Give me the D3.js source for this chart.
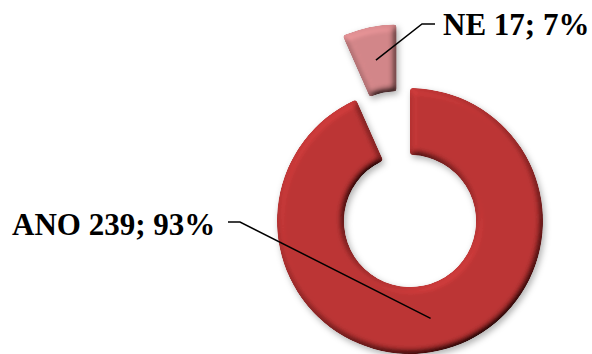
<!DOCTYPE html>
<html>
<head>
<meta charset="utf-8">
<script src="https://cdn.jsdelivr.net/npm/d3@7/dist/d3.min.js"></script>
<style>
  html, body { margin: 0; padding: 0; background: #ffffff; }
  svg { display: block; }
  .lbl { font-family: "Liberation Serif", "Times New Roman", serif; font-weight: bold; font-size: 31px; fill: #000; }
</style>
</head>
<body>
<svg id="chart" width="592" height="354"></svg>
<script>
// Answers: yes / no
const categories = ["ANO", "NE"];
const values = [239, 17];
const colors = ["#bd3535", "#d4878a"];
// which slice is pulled out of the ring
const exploded = [false, true];

const W = 592, H = 354;
const cx = 410, cy = 221;
const outerR = 133, innerR = 66;
const explodeDist = 65;

const svg = d3.select("#chart");
const defs = svg.append("defs");

// rounded bevel shading plus a soft shadow
const f = defs.append("filter").attr("id", "bevel")
  .attr("x", "-20%").attr("y", "-20%").attr("width", "140%").attr("height", "140%");
f.append("feGaussianBlur").attr("in", "SourceAlpha").attr("stdDeviation", 3.5).attr("result", "blur");
const dl = f.append("feDiffuseLighting").attr("in", "blur").attr("surfaceScale", 6)
  .attr("diffuseConstant", 1).attr("lighting-color", "#ffffff").attr("result", "diff");
dl.append("feDistantLight").attr("azimuth", 235).attr("elevation", 55);
f.append("feComposite").attr("in", "SourceGraphic").attr("in2", "diff")
  .attr("operator", "arithmetic").attr("k1", 1.2).attr("k2", 0).attr("k3", 0).attr("k4", 0)
  .attr("result", "lit");
f.append("feComposite").attr("in", "lit").attr("in2", "SourceAlpha").attr("operator", "in").attr("result", "litIn");
f.append("feGaussianBlur").attr("in", "SourceAlpha").attr("stdDeviation", 3).attr("result", "sblur");
f.append("feOffset").attr("in", "sblur").attr("dx", 2).attr("dy", 3).attr("result", "soff");
f.append("feFlood").attr("flood-color", "#000").attr("flood-opacity", 0.3).attr("result", "sc");
f.append("feComposite").attr("in", "sc").attr("in2", "soff").attr("operator", "in").attr("result", "shadow");
const m = f.append("feMerge");
m.append("feMergeNode").attr("in", "shadow");
m.append("feMergeNode").attr("in", "litIn");

const total = d3.sum(values);
const pie = d3.pie().sort(null).value(d => d)(values);
const arc = d3.arc().innerRadius(innerR).outerRadius(outerR).cornerRadius(3);

function offset(d, i) {
  if (!exploded[i]) return [0, 0];
  const a = (d.startAngle + d.endAngle) / 2;
  return [Math.sin(a) * explodeDist, -Math.cos(a) * explodeDist];
}

const g = svg.append("g").attr("transform", `translate(${cx},${cy})`);

g.selectAll("path.slice").data(pie).join("path")
  .attr("class", "slice")
  .attr("d", arc)
  .attr("fill", (d, i) => colors[i])
  .attr("filter", "url(#bevel)")
  .attr("transform", (d, i) => { const o = offset(d, i); return `translate(${o[0]},${o[1]})`; });

// label text and leader lines
const pct = v => Math.round(v / total * 100);
const labelPos = [
  { x: 12, y: 235, anchor: "start", knee: [[228, 222], [240, 222]] },
  { x: 443, y: 35, anchor: "start", knee: [[435, 24], [422, 24]] }
];

pie.forEach((d, i) => {
  const o = offset(d, i);
  const c = arc.centroid(d);
  const end = [cx + c[0] + o[0], cy + c[1] + o[1]];
  const lp = labelPos[i];
  const pts = lp.knee.concat([end]);
  svg.append("path")
    .attr("d", d3.line()(pts))
    .attr("fill", "none")
    .attr("stroke", "#000")
    .attr("stroke-width", 1.5);
  svg.append("text")
    .attr("class", "lbl")
    .attr("x", lp.x).attr("y", lp.y)
    .attr("text-anchor", lp.anchor)
    .text(`${categories[i]} ${values[i]}; ${pct(values[i])}%`);
});
</script>
</body>
</html>
